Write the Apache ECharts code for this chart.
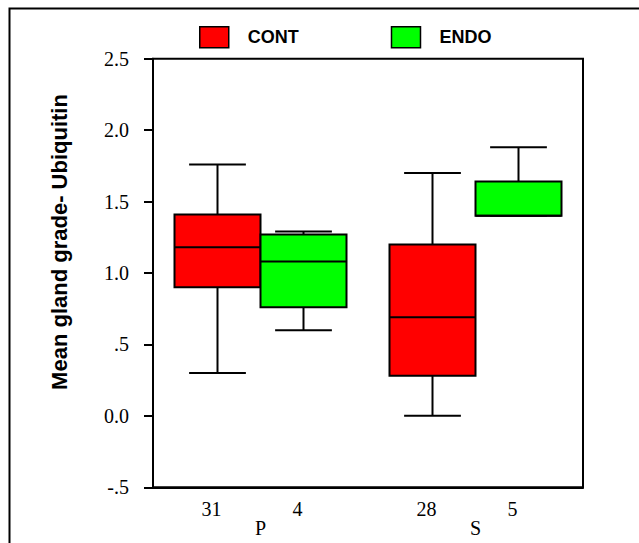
<!DOCTYPE html>
<html>
<head>
<meta charset="utf-8">
<script src="https://cdn.jsdelivr.net/npm/echarts@6/dist/echarts.min.js"></script>
<style>
html,body{margin:0;padding:0;background:#fff;}
#chart{width:639px;height:543px;}
</style>
</head>
<body>
<div id="chart"></div>
<script>
// ---- data ----
const categories = ['P', 'S'];
const seriesNames = ['CONT', 'ENDO'];
// [low whisker, Q1, median, Q3, high whisker] per category
const contStats = [
  [0.30, 0.90, 1.18, 1.41, 1.76],
  [0.00, 0.28, 0.69, 1.20, 1.70]
];
const endoStats = [
  [0.60, 0.76, 1.08, 1.27, 1.29],
  [1.40, 1.40, 1.40, 1.64, 1.88]
];
const contN = [31, 28];
const endoN = [4, 5];
const yTickValues = [-0.5, 0, 0.5, 1, 1.5, 2, 2.5];
const yTickLabels = ['-.5', '0.0', '.5', '1.0', '1.5', '2.0', '2.5'];

const serif = '"Liberation Serif", "Times New Roman", serif';
const sans = '"Liberation Sans", Arial, sans-serif';

function makeRender(side, counts) {
  return function (params, api) {
    const ci = api.value(0);
    const low = api.value(1), q1 = api.value(2), med = api.value(3), q3 = api.value(4), high = api.value(5);
    const cx = api.coord([ci, med])[0];
    const band = api.size([1, 0])[0];
    const bw = band * 0.4;
    const x0 = side < 0 ? cx - bw : cx;
    const bc = x0 + bw / 2;
    const cap = bw * 0.66;
    const yLow = api.coord([ci, low])[1];
    const yQ1 = api.coord([ci, q1])[1];
    const yMed = api.coord([ci, med])[1];
    const yQ3 = api.coord([ci, q3])[1];
    const yHigh = api.coord([ci, high])[1];
    const yBase = api.coord([ci, -0.5])[1];
    const ls = { stroke: '#000', lineWidth: 2 };
    return {
      type: 'group',
      children: [
        { type: 'line', shape: { x1: bc, y1: yHigh, x2: bc, y2: yQ3 }, style: ls },
        { type: 'line', shape: { x1: bc - cap / 2, y1: yHigh, x2: bc + cap / 2, y2: yHigh }, style: ls },
        { type: 'line', shape: { x1: bc, y1: yQ1, x2: bc, y2: yLow }, style: ls },
        { type: 'line', shape: { x1: bc - cap / 2, y1: yLow, x2: bc + cap / 2, y2: yLow }, style: ls },
        { type: 'rect', shape: { x: x0, y: yQ3, width: bw, height: yQ1 - yQ3 },
          style: { fill: api.visual('color'), stroke: '#000', lineWidth: 2 } },
        { type: 'line', shape: { x1: x0, y1: yMed, x2: x0 + bw, y2: yMed }, style: ls },
        { type: 'text', x: bc - 6, y: yBase + 12,
          style: { text: String(counts[params.dataIndex]), font: '20px ' + serif, fill: '#000',
                   align: 'center', verticalAlign: 'top' } }
      ]
    };
  };
}

function toData(stats) {
  return stats.map((s, i) => [i].concat(s));
}

const chart = echarts.init(document.getElementById('chart'), null, { renderer: 'svg' });
chart.setOption({
  animation: false,
  backgroundColor: '#fff',
  graphic: [
    { type: 'rect', left: 7, top: 6, shape: { x: 0, y: 0, width: 640, height: 545 },
      style: { fill: 'none', stroke: '#000', lineWidth: 2 }, silent: true },
    { type: 'text', x: 59, y: 242, rotation: Math.PI / 2,
      style: { text: 'Mean gland grade- Ubiquitin', font: 'bold 22px ' + sans, fill: '#000',
               align: 'center', verticalAlign: 'middle' } }
  ],
  legend: {
    left: 199, top: 26, padding: 0,
    itemWidth: 29, itemHeight: 21, itemGap: 92,
    icon: 'rect',
    data: seriesNames,
    itemStyle: { borderColor: '#000', borderWidth: 1.5 },
    textStyle: { fontFamily: sans, fontSize: 18, fontWeight: 'bold', color: '#000', padding: [0, 0, 0, 14] }
  },
  grid: { left: 153, right: 56, top: 58.7, bottom: 55.7, show: true, borderColor: '#000', borderWidth: 2 },
  xAxis: {
    type: 'category', data: categories,
    axisLine: { onZero: false, lineStyle: { color: '#000', width: 2 } },
    axisTick: { alignWithLabel: true, length: 11, lineStyle: { color: '#000', width: 2 } },
    axisLabel: { margin: 31, color: '#000', fontFamily: serif, fontSize: 20 },
    splitLine: { show: false }
  },
  yAxis: {
    type: 'value', min: -0.5, max: 2.5, interval: 0.5,
    axisLine: { show: true, lineStyle: { color: '#000', width: 2 } },
    axisTick: { show: true, length: 9, lineStyle: { color: '#000', width: 2 } },
    axisLabel: {
      margin: 24, color: '#000', fontFamily: serif, fontSize: 20,
      formatter: function (v) {
        const i = yTickValues.findIndex(t => Math.abs(t - v) < 1e-9);
        return i >= 0 ? yTickLabels[i] : '';
      }
    },
    splitLine: { show: false }
  },
  series: [
    { name: seriesNames[0], type: 'custom', clip: false, renderItem: makeRender(-1, contN),
      itemStyle: { color: '#ff0000' }, encode: { x: 0, y: [1, 2, 3, 4, 5] }, data: toData(contStats) },
    { name: seriesNames[1], type: 'custom', clip: false, renderItem: makeRender(1, endoN),
      itemStyle: { color: '#00ff00' }, encode: { x: 0, y: [1, 2, 3, 4, 5] }, data: toData(endoStats) }
  ]
});
</script>
</body>
</html>
